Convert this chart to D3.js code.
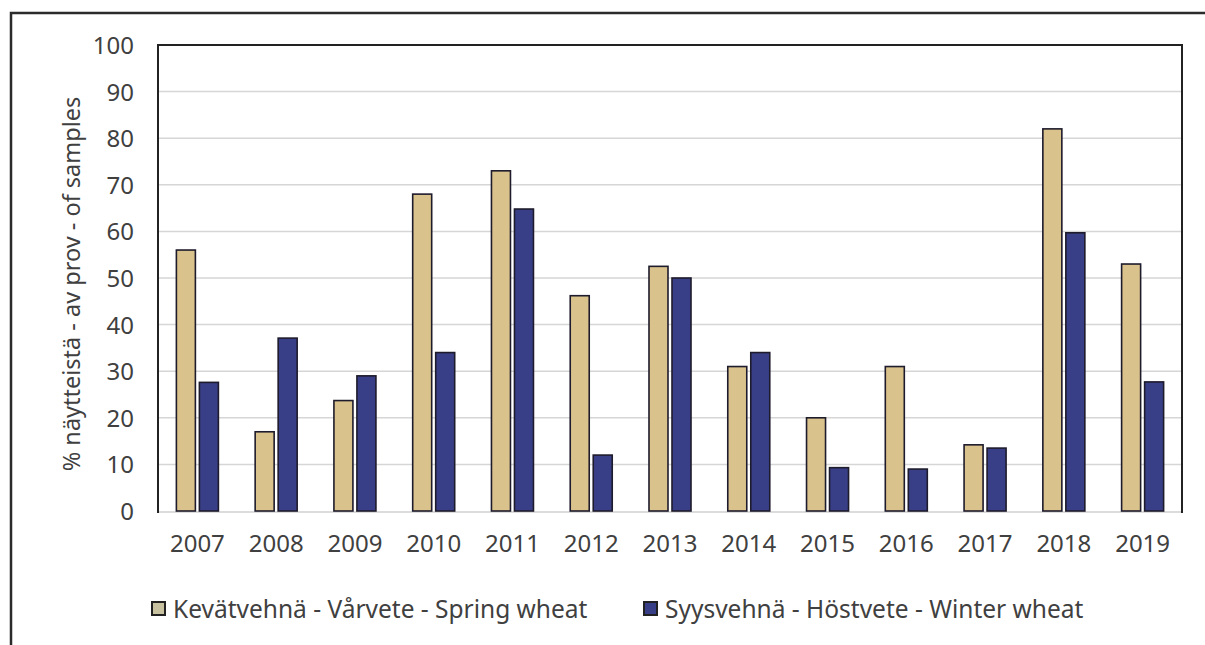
<!DOCTYPE html>
<html>
<head>
<meta charset="utf-8">
<script src="https://cdn.jsdelivr.net/npm/d3@7"></script>
<style>
  html, body { margin: 0; padding: 0; background: #fff; }
  svg { display: block; }
  text { font-family: "Noto Sans", "Open Sans", sans-serif; fill: #404040; }
</style>
</head>
<body>
<svg id="chart" width="1205" height="645"></svg>
<script>
const years = ["2007","2008","2009","2010","2011","2012","2013","2014","2015","2016","2017","2018","2019"];
const springWheat = [56, 17, 23.7, 68, 73, 46.2, 52.5, 31, 20, 31, 14.2, 82, 53];
const winterWheat = [27.6, 37.1, 29, 34, 64.8, 12, 50, 34, 9.3, 9, 13.5, 59.7, 27.7];
const yTicks = [0, 10, 20, 30, 40, 50, 60, 70, 80, 90, 100];
const seriesNames = ["Kevätvehnä - Vårvete - Spring wheat", "Syysvehnä - Höstvete - Winter wheat"];
const seriesKeys = ["spring", "winter"];
const seriesColors = ["#d9c28c", "#393f86"];
const yTitle = "% näytteistä - av prov - of samples";

const svg = d3.select("#chart");
const pLeft = 158, pRight = 1182, pTop = 45, pBottom = 511;

// outer frame
svg.append("path").attr("d", "M11,645 L11,13 L1205,13")
  .attr("fill", "none").attr("stroke", "#2b2b2b").attr("stroke-width", 2.5);

const x = d3.scaleBand().domain(years).range([pLeft, pRight]).padding(0);
const xs = d3.scaleBand().domain(seriesKeys).range([-21, 21]).paddingInner(0.174);
const y = d3.scaleLinear().domain([0, 100]).range([pBottom, pTop]);

// gridlines
svg.append("g").selectAll("line").data(yTicks.filter(t => t > 0 && t < 100)).join("line")
  .attr("x1", pLeft).attr("x2", pRight)
  .attr("y1", d => y(d)).attr("y2", d => y(d))
  .attr("stroke", "#d6d6d6").attr("stroke-width", 1.5);

// bottom axis line
svg.append("line").attr("x1", pLeft).attr("x2", pRight).attr("y1", pBottom + 1).attr("y2", pBottom + 1)
  .attr("stroke", "#d0d0d0").attr("stroke-width", 1.5);

// bars
const data = years.map((yr, i) => ({ year: yr, spring: springWheat[i], winter: winterWheat[i] }));
const groups = svg.append("g").selectAll("g").data(data).join("g")
  .attr("transform", d => `translate(${x(d.year) + x.bandwidth() / 2},0)`);
seriesKeys.forEach((k, si) => {
  groups.append("rect")
    .attr("x", xs(k))
    .attr("width", xs.bandwidth())
    .attr("y", d => y(d[k]))
    .attr("height", d => y(0) - y(d[k]))
    .attr("fill", seriesColors[si])
    .attr("stroke", "#1e1b2c").attr("stroke-width", 1.6);
});

// plot frame (top, left, right)
svg.append("path").attr("d", `M${pLeft},${pBottom + 2} L${pLeft},${pTop} L${pRight},${pTop} L${pRight},${pBottom + 2}`)
  .attr("fill", "none").attr("stroke", "#222").attr("stroke-width", 2);

// y axis labels
const yAxis = d3.axisLeft(y).tickValues(yTicks).tickSize(0).tickPadding(0);
const gy = svg.append("g").attr("transform", `translate(${pLeft - 24},0)`).call(yAxis);
gy.select(".domain").remove();
gy.selectAll("text").style("font-size", "24px").attr("fill", "#454545")
  .style("font-family", '"Noto Sans", sans-serif').attr("dy", "0.35em");

// x axis labels
const xAxis = d3.axisBottom(x).tickSize(0).tickPadding(0);
const gx = svg.append("g").attr("transform", `translate(0,${pBottom + 24})`).call(xAxis);
gx.select(".domain").remove();
gx.selectAll("text").style("font-size", "24px").attr("fill", "#454545")
  .style("font-family", '"Noto Sans", sans-serif').attr("dy", "0.71em");

// y title
svg.append("text")
  .attr("transform", `translate(80,${(pTop + pBottom) / 2 + 6}) rotate(-90)`)
  .attr("text-anchor", "middle")
  .style("font-size", "23.5px")
  .attr("fill", "#454545")
  .text(yTitle);

// legend
const legendX = [151, 643];
const leg = svg.append("g").selectAll("g").data(seriesNames).join("g")
  .attr("transform", (d, i) => `translate(${legendX[i]},601)`);
leg.append("rect").attr("x", 1).attr("y", 1).attr("width", 13).attr("height", 13)
  .attr("fill", (d, i) => i === 0 ? "#c9c2a0" : "#393f86")
  .attr("stroke", "#222").attr("stroke-width", 2);
leg.append("text").attr("x", 22).attr("y", 8).attr("dy", "0.35em")
  .style("font-size", "24.5px").attr("fill", "#454545").text(d => d);
</script>
</body>
</html>
